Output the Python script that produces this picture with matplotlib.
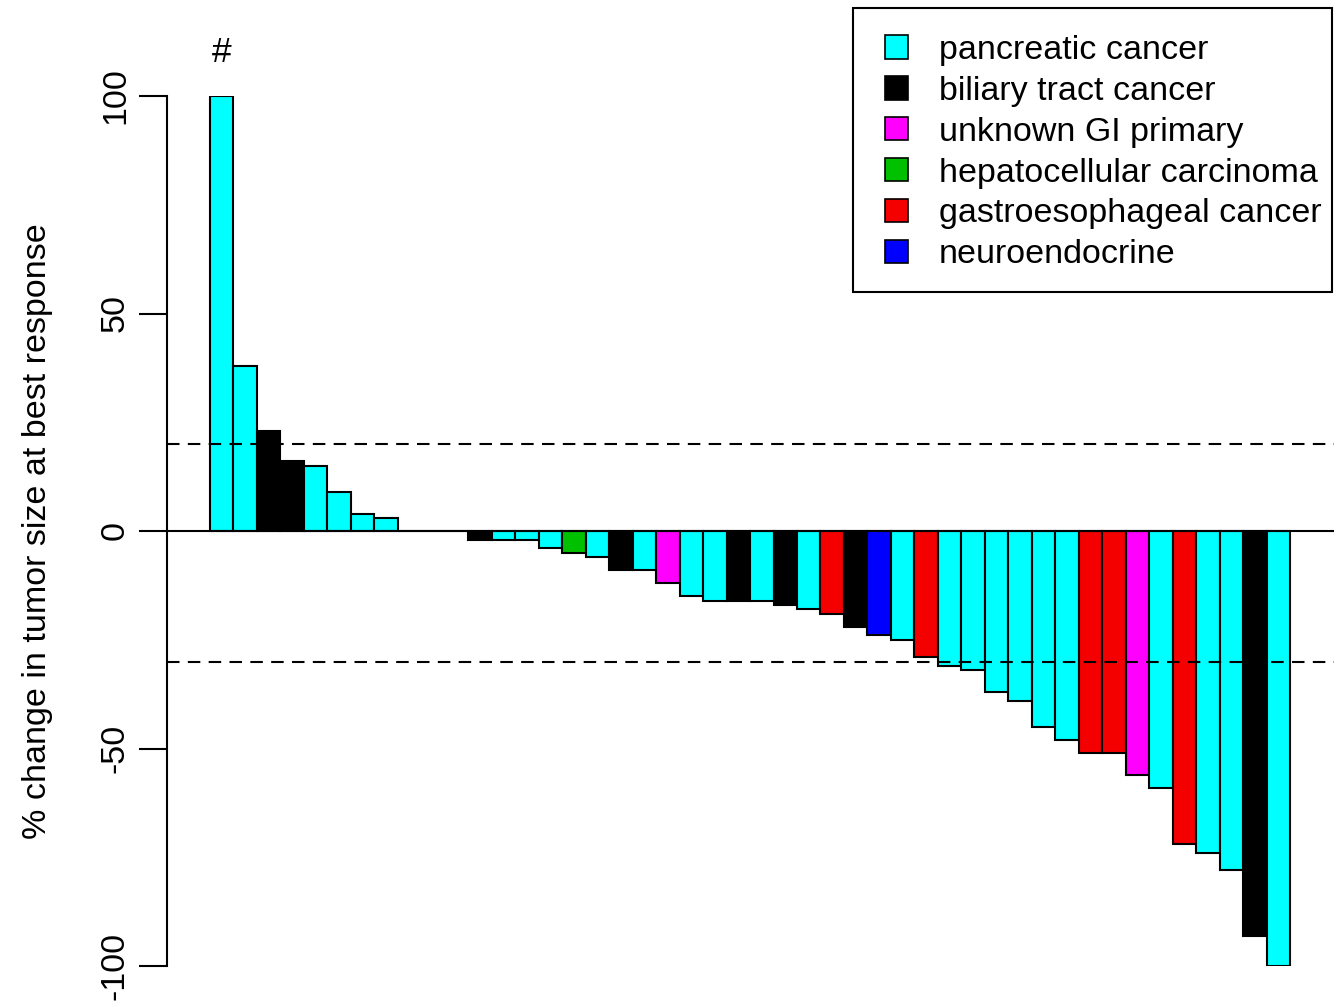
#!/usr/bin/env python3

import matplotlib
matplotlib.use('Agg')
import matplotlib.pyplot as plt
from matplotlib.patches import Patch, Rectangle
import numpy as np

plt.rcParams['font.family'] = ['Liberation Sans', 'DejaVu Sans']

# % change in tumor size at best response, one bar per patient (sorted)
change = [100, 38, 23, 16, 15, 9, 4, 3, 0, 0, 0,
          -2, -2, -2, -4, -5, -6, -9, -9, -12, -15, -16, -16, -16, -17,
          -18, -19, -22, -24, -25, -29, -31, -32, -37, -39, -45, -48,
          -51, -51, -56, -59, -72, -74, -78, -93, -100]
# tumour type of each bar
kind = ['P', 'P', 'B', 'B', 'P', 'P', 'P', 'P', 'P', 'P', 'P',
        'B', 'P', 'P', 'P', 'H', 'P', 'B', 'P', 'U', 'P', 'P', 'B', 'P', 'B',
        'P', 'G', 'B', 'N', 'P', 'G', 'P', 'P', 'P', 'P', 'P', 'P',
        'G', 'G', 'U', 'P', 'G', 'P', 'P', 'B', 'P']

types = ['P', 'B', 'U', 'H', 'G', 'N']
type_labels = ['pancreatic cancer', 'biliary tract cancer', 'unknown GI primary',
               'hepatocellular carcinoma', 'gastroesophageal cancer', 'neuroendocrine']
type_colors = {'P': '#00FFFF', 'B': '#000000', 'U': '#FF00FF',
               'H': '#00C000', 'G': '#F50000', 'N': '#0000FF'}

thresholds = [20, -30]

fs = 24.5
W, H = 1344, 1007

fig = plt.figure(figsize=(W / 100, H / 100), dpi=100)
ax = fig.add_axes([167 / W, 41 / H, 1167 / W, 870 / H])

x = np.arange(len(change))
ax.bar(x, change, width=1.0, align='edge',
       color=[type_colors[k] for k in kind], edgecolor='black', linewidth=1.5)

ax.axhline(0, color='black', linewidth=1.5)
for t in thresholds:
    ax.axhline(t, color='black', linewidth=1.5, linestyle=(0, (6, 4)))

ax.text(0.5, 110, '#', ha='center', va='center', fontsize=fs + 1)

ax.set_xlim(-1.83, 47.87)
ax.set_ylim(-100, 100)
for s in ['top', 'right', 'bottom']:
    ax.spines[s].set_visible(False)
ax.spines['left'].set_bounds(-100, 100)
ax.spines['left'].set_linewidth(1.5)
ax.set_xticks([])
ax.set_yticks([-100, -50, 0, 50, 100])
ax.set_yticklabels(['-100', '-50', '0', '50', '100'], rotation=90, va='center')
ax.tick_params(axis='y', length=20, width=1.5, labelsize=fs, pad=6)
ax.set_ylabel('% change in tumor size at best response', fontsize=fs, labelpad=34)

# legend box drawn by hand, entries by the legend itself
fig.patches.append(Rectangle((853 / W, 1 - 292 / H), 479 / W, 284 / H,
                             transform=fig.transFigure, facecolor='white',
                             edgecolor='black', linewidth=1.5, zorder=5))
handles = [Patch(facecolor=type_colors[k], edgecolor='black', linewidth=1.2) for k in types]
leg = fig.legend(handles, type_labels, loc='upper left',
                 bbox_to_anchor=(885 / W, 1 - 35 / H),
                 fontsize=fs, frameon=False,
                 handlelength=0.68, handleheight=0.68, handletextpad=0.9,
                 labelspacing=0.29, borderpad=0, borderaxespad=0)
leg.set_zorder(6)

fig.savefig('out.png', dpi=100)
